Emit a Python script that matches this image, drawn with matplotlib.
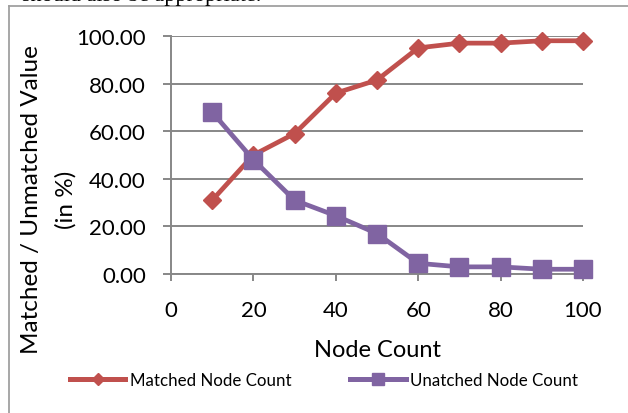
import matplotlib
matplotlib.use("Agg")
import matplotlib.pyplot as plt
from matplotlib.lines import Line2D

node_count = [10, 20, 30, 40, 50, 60, 70, 80, 90, 100]
matched = [31, 50, 59, 76, 81.5, 95, 97, 97, 98, 98]
unmatched = [68, 48, 31, 24.5, 17, 4.5, 3, 3, 2, 2]
y_ticks = [0, 20, 40, 60, 80, 100]
x_ticks = [0, 20, 40, 60, 80, 100]

W, H = 628, 414
fig = plt.figure(figsize=(W / 100, H / 100), dpi=100)
plt.rcParams['font.family'] = ['Lato', 'DejaVu Sans']

RED = '#C0504D'
PURPLE = '#8064A2'
GRID = '#878787'

def px(x, y):
    return x / W, 1 - y / H

l, t, r, b = 171, 37, 583, 275
ax = fig.add_axes([l / W, 1 - b / H, (r - l) / W, (b - t) / H])
ax.set_xlim(0, 100)
ax.set_ylim(0, 100)
ax.set_xticks(x_ticks)
ax.set_yticks(y_ticks)
ax.set_yticklabels([f'{v:.2f}' for v in y_ticks])
ax.set_xticklabels([str(v) for v in x_ticks])
ax.grid(axis='y', color=GRID, lw=1.4)
ax.set_axisbelow(True)
for s in ['top', 'right']:
    ax.spines[s].set_visible(False)
for s in ['left', 'bottom']:
    ax.spines[s].set_color(GRID)
    ax.spines[s].set_linewidth(1.4)
ax.tick_params(axis='y', length=6, width=1.4, color=GRID, pad=12, labelsize=16)
ax.tick_params(axis='x', length=5, width=1.4, color=GRID, pad=14, labelsize=16)

ax.plot(node_count, matched, color=RED, lw=3.4, marker='D', ms=9,
        clip_on=False, zorder=3)
ax.plot(node_count, unmatched, color=PURPLE, lw=3.4, marker='s', ms=12.5,
        clip_on=False, zorder=3)

fig.text(*px(32, 200), 'Matched / Unmatched Value', rotation=90,
         ha='center', va='center', fontsize=17.5)
fig.text(*px(66, 200), '(in %)', rotation=90,
         ha='center', va='center', fontsize=17.5)
fig.text(*px(377, 351), 'Node Count', ha='center', va='center', fontsize=17)

# legend
handles = [Line2D([], [], color=RED, lw=3.6, marker='D', ms=6),
           Line2D([], [], color=PURPLE, lw=3.6, marker='s', ms=8)]
fig.legend(handles, ['Matched Node Count', 'Unatched Node Count'],
           loc='center', bbox_to_anchor=px(324, 381), ncol=2, frameon=False,
           fontsize=12.2, handlelength=3.25, handletextpad=0.25,
           columnspacing=3.5, borderpad=0)

# frame border of chart area
fig.add_artist(Line2D([9 / W, 1], [1 - 7 / H, 1 - 7 / H], color='#a0a0a0', lw=1.3))
fig.add_artist(Line2D([9 / W, 9 / W], [0, 1 - 7 / H], color='#a0a0a0', lw=1.3))

# clipped document text above the chart
fig.text(*px(22, 1), 'should also be appropriate.', ha='left', va='baseline',
         fontsize=16, family='Liberation Serif')

fig.savefig('out.png', dpi=100)
